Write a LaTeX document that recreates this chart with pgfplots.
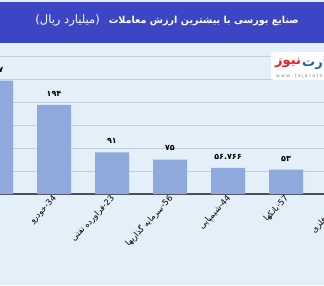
\documentclass[border=0pt]{standalone}
\usepackage{pgfplots}
\pgfplotsset{compat=1.18}
\usepackage{fontspec}
\setmainfont{DejaVu Sans}
\newfontfamily\arfont[Script=Arabic]{DejaVu Sans}
\TeXXeTstate=1
\definecolor{bandc}{HTML}{3C46C4}
\definecolor{bgc}{HTML}{E3EFF9}
\definecolor{barc}{HTML}{8FA9DC}
\definecolor{gridc}{HTML}{C3CFDA}
\definecolor{axc}{HTML}{4A4E55}
\definecolor{logored}{HTML}{E0242B}
\definecolor{logoblue}{HTML}{1F5FB5}
\begin{document}
\begin{tikzpicture}
\path[use as bounding box] (0pt,0pt) rectangle (324pt,285pt);
\clip (0pt,0pt) rectangle (324pt,285pt);
\fill[bgc] (0pt,0pt) rectangle (324pt,285pt);
\fill[bandc] (0pt,242pt) rectangle (324pt,283pt);
\node[text=white, inner sep=0pt, anchor=east] at (299pt,264pt) {\arfont\beginR{\bfseries\fontsize{9.6}{12}\selectfont صنایع بورسی با بیشترین ارزش معاملات}\hspace{9pt}{\fontsize{11.5}{13}\selectfont (میلیارد ریال)}\endR};
\begin{axis}[
  at={(-33pt,91pt)}, anchor=south west,
  scale only axis,
  x=58pt, y=0.4588pt,
  xmin=-0.5, xmax=6.5, ymin=0, ymax=330,
  axis lines*=left,
  x axis line style={draw=axc, line width=1.3pt},
  y axis line style={draw=none},
  ytick={50,100,150,200,250,300},
  yticklabels={},
  ymajorgrids,
  grid style={draw=gridc, line width=0.9pt},
  major tick length=0pt,
  xtick={0,1,2,3,4,5,6},
  xticklabels={
    {\beginR\beginL 27\endL{}-{\arfont فلزات اساسی}\endR},
    {\beginR\beginL 34\endL{}-{\arfont خودرو}\endR},
    {\beginR\beginL 23\endL{}-{\arfont فراورده نفتی}\endR},
    {\beginR\beginL 56\endL{}-{\arfont سرمایه گذاریها}\endR},
    {\beginR\beginL 44\endL{}-{\arfont شیمیایی}\endR},
    {\beginR\beginL 57\endL{}-{\arfont بانکها}\endR},
    {\beginR\beginL 13\endL{}-{\arfont کانه فلزی}\endR}},
  x tick label style={rotate=47, anchor=east, font=\fontsize{8.3}{10}\selectfont, yshift=-3pt, xshift=2pt},
  ybar, bar width=34pt,
  point meta=explicit symbolic,
  nodes near coords,
  nodes near coords style={font=\arfont\bfseries\fontsize{8}{9}\selectfont, text=black, yshift=5pt},
]
\addplot[fill=barc, draw=none] coordinates {
  (0,247) [۲۴۷]
  (1,194) [۱۹۴]
  (2,91) [۹۱]
  (3,75) [۷۵]
  (4,56.766) [۵۶.۷۶۶]
  (5,53) [۵۳]
  (6,48) [۴۸]
};
\end{axis}
\fill[white, rounded corners=3pt] (271pt,205pt) rectangle (345pt,233pt);
\node[anchor=west, inner sep=0pt, text=logored] at (275pt,222pt) {\arfont\bfseries\fontsize{13}{15}\selectfont نیوز};
\node[anchor=west, inner sep=0pt, text=logoblue] at (302pt,222pt) {\arfont\bfseries\fontsize{13}{15}\selectfont تجارت};
\node[anchor=west, inner sep=0pt, text=gray] at (276pt,209pt) {\fontsize{4.5}{5}\selectfont w w w . t e j a r a t n e w s . c o m};
\end{tikzpicture}
\end{document}
